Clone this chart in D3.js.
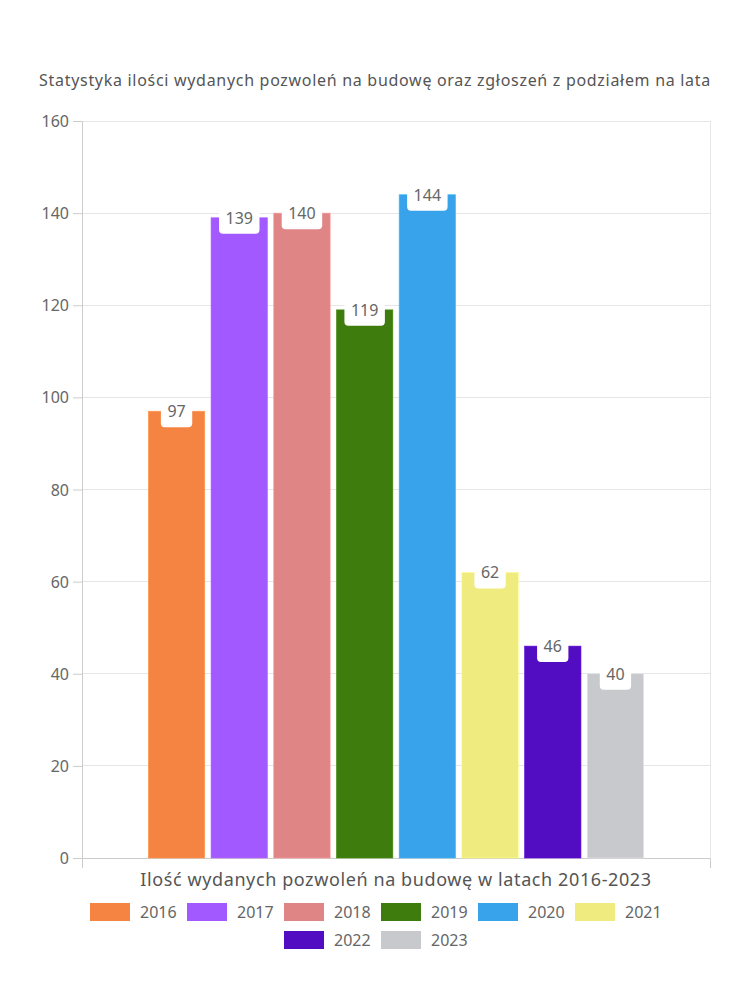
<!DOCTYPE html>
<html><head><meta charset="utf-8">
<script src="https://cdn.jsdelivr.net/npm/d3@7"></script>
<style>body{margin:0;background:#fff;} svg{display:block;font-family:"Noto Sans",sans-serif;}</style>
</head><body>
<svg id="c" width="750" height="1000"></svg>
<script>
const years = ["2016","2017","2018","2019","2020","2021","2022","2023"];
const values = [97,139,140,119,144,62,46,40];
const colors = ["#F58442","#A259FF","#E08585","#3E7C0E","#38A3EA","#F0EB7E","#520CC2","#C8C9CD"];
const yTicks = [0,20,40,60,80,100,120,140,160];
const title = "Statystyka ilości wydanych pozwoleń na budowę oraz zgłoszeń z podziałem na lata";
const xTitle = "Ilość wydanych pozwoleń na budowę w latach 2016-2023";

const svg = d3.select("#c");
const L = 82, R = 710, T = 121, B = 858;
const y = d3.scaleLinear().domain([0,160]).range([B,T]);
const x0 = d3.scaleBand().domain(["g"]).range([L,R]).paddingInner(0).paddingOuter(0.126);
const x = d3.scaleBand().domain(years).range([x0("g"), x0("g")+x0.bandwidth()]).paddingInner(0.1).paddingOuter(0.05);

// title
svg.append("text").attr("x",375).attr("y",86).attr("text-anchor","middle")
  .attr("font-size",16).attr("letter-spacing",0.7).attr("fill","#555").text(title);

// gridlines
svg.append("g").selectAll("line").data(yTicks.filter(d=>d>0)).join("line")
  .attr("x1",L).attr("x2",R).attr("y1",d=>y(d)).attr("y2",d=>y(d))
  .attr("stroke","#e6e6e6").attr("stroke-width",1).attr("shape-rendering","crispEdges");
// right border
svg.append("line").attr("x1",R).attr("x2",R).attr("y1",T).attr("y2",B+10)
  .attr("stroke","#e6e6e6").attr("shape-rendering","crispEdges");

// y axis
const ya = svg.append("g").attr("transform",`translate(${L},0)`)
  .call(d3.axisLeft(y).tickValues(yTicks).tickSize(9).tickPadding(4));
ya.select(".domain").attr("stroke","#ccc");
ya.selectAll(".tick line").attr("stroke","#ccc");
ya.selectAll("text").attr("font-size",16).attr("fill","#666").attr("font-family","Noto Sans");
ya.selectAll(".tick text").attr("dy","0.35em");

// x axis
const xa = svg.append("g").attr("transform",`translate(0,${B})`)
  .call(d3.axisBottom(x0).tickValues([]).tickSizeOuter(10));
xa.select(".domain").attr("stroke","#ccc");

// bars
const bars = svg.append("g").selectAll("g").data(years).join("g");
bars.append("rect").attr("x",d=>x(d)).attr("width",x.bandwidth())
  .attr("y",(d,i)=>y(values[i])).attr("height",(d,i)=>B-y(values[i]))
  .attr("fill",(d,i)=>colors[i]).attr("stroke",(d,i)=>d3.color(colors[i]).brighter(0.4))
  .attr("stroke-width",0.6);

// labels
bars.each(function(d,i){
  const g = d3.select(this);
  const cx = x(d)+x.bandwidth()/2, ty = y(values[i]);
  const t = g.append("text").attr("x",cx).attr("y",ty+6).attr("text-anchor","middle")
    .attr("font-size",16).attr("fill","#666").text(values[i]);
  const w = t.node().getComputedTextLength()+13;
  g.insert("rect","text").attr("x",cx-w/2).attr("y",ty-12).attr("width",w).attr("height",28)
    .attr("rx",4).attr("fill","#fff");
});

// x title
svg.append("text").attr("x",(L+R)/2).attr("y",886).attr("text-anchor","middle")
  .attr("font-size",18).attr("letter-spacing",0.6).attr("fill","#555").text(xTitle);

// legend
const rows = [years.slice(0,6), years.slice(6)];
const itemW = 97;
rows.forEach((row,ri)=>{
  const total = row.length*itemW - 10;
  const sx = 375 - total/2 + 1;
  const cy = 912 + ri*28;
  row.forEach((yr,j)=>{
    const i = years.indexOf(yr);
    const gx = sx + j*itemW;
    svg.append("rect").attr("x",gx).attr("y",cy-9).attr("width",40).attr("height",18).attr("fill",colors[i]);
    svg.append("text").attr("x",gx+50).attr("y",cy).attr("dy","0.35em")
      .attr("font-size",16).attr("fill","#666").text(yr);
  });
});
</script>
</body></html>
